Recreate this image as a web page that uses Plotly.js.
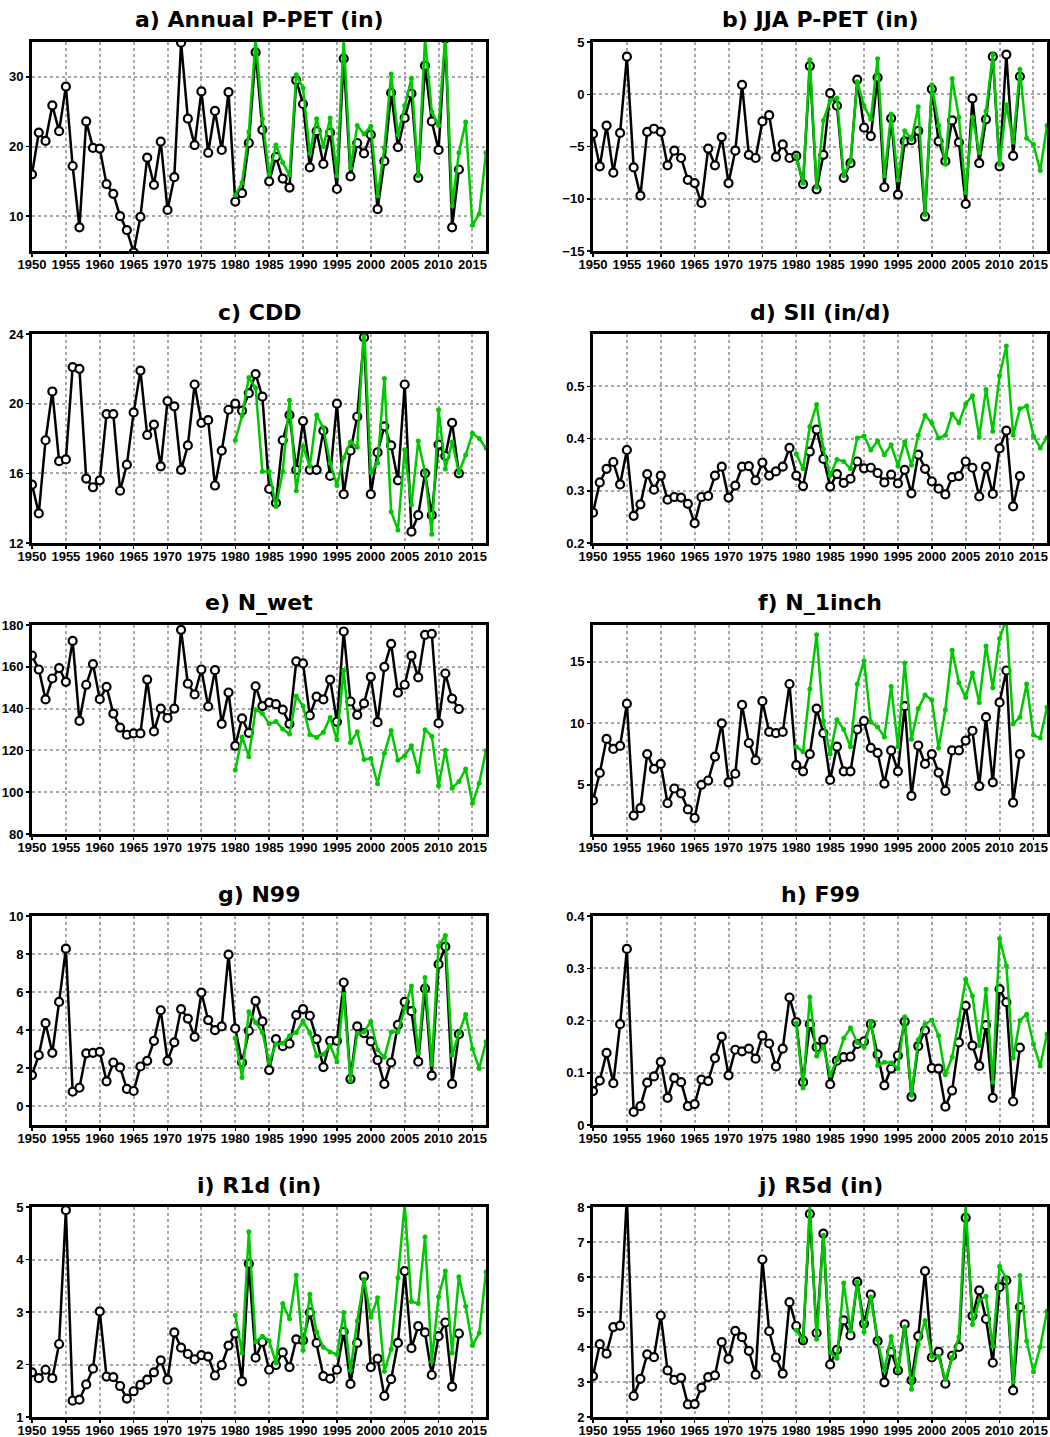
<!DOCTYPE html>
<html>
<head>
<meta charset="utf-8">
<script src="https://cdn.plot.ly/plotly-3.0.1.min.js"></script>
<style>html,body{margin:0;padding:0;background:#fff;}#chart{width:1050px;height:1437px;}</style>
</head>
<body>
<div id="chart"></div>
<script>
// ---------- categories ----------
const yearsObs = [1950,1951,1952,1953,1954,1955,1956,1957,1958,1959,
  1960,1961,1962,1963,1964,1965,1966,1967,1968,1969,
  1970,1971,1972,1973,1974,1975,1976,1977,1978,1979,
  1980,1981,1982,1983,1984,1985,1986,1987,1988,1989,
  1990,1991,1992,1993,1994,1995,1996,1997,1998,1999,
  2000,2001,2002,2003,2004,2005,2006,2007,2008,2009,
  2010,2011,2012,2013];
const yearsGreen = [1980,1981,1982,1983,1984,1985,1986,1987,1988,1989,
  1990,1991,1992,1993,1994,1995,1996,1997,1998,1999,
  2000,2001,2002,2003,2004,2005,2006,2007,2008,2009,
  2010,2011,2012,2013,2014,2015,2016,2017];
const xTickVals = [1950,1955,1960,1965,1970,1975,1980,1985,1990,1995,2000,2005,2010,2015];

// ---------- a) Annual P-PET (in) ----------
const aBlack = [16.0,22.0,20.8,25.9,22.2,28.6,17.2,8.4,23.6,19.8,
  19.7,14.6,13.2,10.0,8.0,4.8,9.9,18.4,14.5,20.7,
  10.9,15.6,34.9,24.0,20.2,27.9,19.1,25.1,19.5,27.8,
  12.1,13.3,20.5,33.5,22.4,15.0,18.5,15.4,14.1,29.5,
  26.1,17.0,22.2,17.5,22.0,13.9,32.6,15.7,20.5,19.0,
  21.7,11.0,17.9,27.7,19.9,24.1,27.6,15.5,31.6,23.6,
  19.5,35.5,8.4,16.7];
const aGreen = [13.0,14.8,22.1,35.5,24.0,16.0,20.2,17.7,15.9,30.3,
  28.4,19.0,24.0,20.0,24.1,15.8,35.5,16.9,23.0,21.8,
  22.9,12.9,19.8,30.4,21.7,25.9,29.8,15.8,35.5,25.0,
  23.0,36.0,11.5,19.1,23.5,8.7,10.3,19.1];

// ---------- b) JJA P-PET (in) ----------
const bBlack = [-3.8,-6.9,-3.0,-7.5,-3.7,3.6,-7.0,-9.7,-3.6,-3.3,
  -3.6,-6.8,-5.4,-6.1,-8.2,-8.5,-10.4,-5.2,-6.8,-4.1,
  -8.5,-5.4,0.9,-5.8,-6.1,-2.6,-2.0,-6.0,-4.8,-6.1,
  -5.9,-8.6,2.7,-9.1,-5.8,0.1,-1.1,-8.0,-6.6,1.4,
  -3.2,-4.0,1.6,-8.9,-2.3,-9.6,-4.5,-4.4,-3.5,-11.7,
  0.5,-4.5,-6.4,-2.5,-4.6,-10.5,-0.4,-6.6,-2.4,3.6,
  -6.9,3.8,-5.9,1.7];
const bGreen = [-5.9,-8.5,3.3,-8.9,-2.5,-0.6,-0.35,-7.8,-6.4,1.2,
  -1.1,-2.4,3.4,-7.8,-1.9,-8.2,-3.5,-4.3,-1.2,-11.5,
  0.9,-3.0,-6.7,1.5,-2.2,-9.4,-2.2,-5.6,-1.6,3.8,
  -6.7,-1.0,-4.6,2.4,-4.2,-4.8,-7.3,-3.0];

// ---------- c) CDD ----------
const cBlack = [15.35,13.7,17.9,20.7,16.7,16.8,22.1,22.0,15.7,15.2,
  15.6,19.4,19.4,15.0,16.5,19.5,21.9,18.2,18.8,16.4,
  20.15,19.85,16.2,17.6,21.1,18.9,19.05,15.3,17.3,19.65,
  20.0,19.6,20.6,21.7,20.4,15.1,14.3,17.9,19.35,16.2,
  19.0,16.2,16.2,18.45,15.85,20.0,14.8,17.3,19.25,23.8,
  14.8,17.2,18.7,17.6,15.6,21.1,12.65,13.6,16.0,13.6,
  17.65,17.0,18.9,16.0];
const cGreen = [17.9,19.3,21.5,20.9,16.1,16.1,14.1,16.1,20.2,15.0,
  17.55,16.4,19.35,18.6,16.6,15.3,16.9,17.8,17.5,24.5,
  16.05,16.6,21.45,13.8,12.75,17.35,14.2,17.85,16.05,12.5,
  19.65,16.25,17.8,16.05,17.05,18.3,18.0,17.45];

// ---------- d) SII (in/d) ----------
const dBlack = [0.258,0.316,0.342,0.355,0.312,0.378,0.252,0.274,0.332,0.302,
  0.329,0.283,0.288,0.287,0.275,0.238,0.288,0.290,0.329,0.346,
  0.287,0.310,0.346,0.347,0.320,0.354,0.329,0.337,0.346,0.382,
  0.329,0.309,0.375,0.417,0.361,0.308,0.332,0.315,0.323,0.356,
  0.343,0.344,0.334,0.316,0.331,0.314,0.340,0.295,0.369,0.342,
  0.318,0.304,0.293,0.326,0.328,0.356,0.344,0.289,0.346,0.294,
  0.381,0.415,0.270,0.328];
const dGreen = [0.371,0.342,0.423,0.465,0.380,0.329,0.360,0.356,0.342,0.401,
  0.405,0.378,0.395,0.369,0.388,0.348,0.394,0.349,0.406,0.444,
  0.430,0.401,0.406,0.447,0.430,0.466,0.482,0.403,0.494,0.414,
  0.520,0.577,0.406,0.457,0.462,0.405,0.382,0.402];

// ---------- e) N_wet ----------
const eBlack = [165.4,158.7,144.4,154.4,159.4,152.8,172.4,134.1,151.4,161.3,
  144.5,150.4,137.6,130.9,127.5,128.1,128.1,153.9,129.1,140.0,
  135.5,140.0,177.7,151.9,146.8,158.7,141.0,158.4,132.7,147.7,
  122.2,135.3,128.4,150.7,141.2,142.9,142.1,139.5,132.7,162.6,
  161.6,136.7,145.7,144.4,153.9,133.7,176.9,143.4,137.0,142.5,
  155.2,133.5,160.0,171.0,147.6,151.4,165.3,154.9,175.3,175.8,
  133.0,156.8,144.8,139.8];
const eGreen = [110.6,126.4,117.0,139.5,137.7,132.7,133.8,130.2,127.8,146.0,
  141.2,127.6,126.2,128.7,135.8,125.2,158.4,123.8,128.9,115.7,
  116.1,104.0,118.6,129.5,115.3,117.4,122.2,109.9,129.9,126.8,
  103.1,120.1,101.9,105.1,111.1,94.7,104.3,119.8];

// ---------- f) N_1inch ----------
const fBlack = [3.73,5.97,8.73,7.92,8.16,11.6,2.5,3.1,7.5,6.3,
  6.7,3.5,4.7,4.3,3.0,2.3,5.0,5.35,7.3,10.0,
  5.2,5.9,11.5,8.4,7.0,11.8,9.3,9.2,9.3,13.2,
  6.6,6.1,7.5,11.2,9.2,5.4,8.1,6.1,6.1,9.5,
  10.2,8.0,7.6,5.1,7.8,6.1,11.4,4.1,8.2,6.7,
  7.5,6.0,4.5,7.8,7.8,8.6,9.4,4.9,10.5,5.2,
  11.7,14.3,3.55,7.5];
const fGreen = [8.1,7.7,12.8,17.2,10.2,7.5,10.3,9.5,8.1,13.2,
  15.1,10.1,9.7,8.9,13.0,8.1,14.9,8.7,11.2,12.3,
  11.9,8.0,11.1,15.95,13.3,12.1,14.1,11.7,16.3,12.9,
  16.9,18.5,9.95,10.5,13.2,9.05,8.8,11.3];

// ---------- g) N99 ----------
const gBlack = [1.63,2.68,4.36,2.8,5.48,8.28,0.75,0.96,2.77,2.8,
  2.85,1.3,2.29,2.03,0.9,0.79,2.08,2.38,3.43,5.04,
  2.38,3.35,5.1,4.6,3.64,5.97,4.52,3.99,4.19,7.97,
  4.08,2.29,3.96,5.53,4.45,1.89,3.52,3.15,3.28,4.78,
  5.1,4.75,3.52,2.05,3.43,3.43,6.5,1.42,4.19,3.84,
  3.4,2.42,1.16,2.29,4.27,5.48,4.99,2.33,6.18,1.6,
  7.46,8.39,1.16,3.78];
const gGreen = [3.56,1.5,4.96,4.4,3.87,2.29,3.26,3.3,3.7,3.87,
  4.47,3.84,2.64,2.73,3.17,2.33,5.88,1.33,3.82,3.9,
  4.45,2.96,2.56,3.9,3.9,5.13,6.32,2.77,6.76,2.2,
  8.42,8.98,2.68,3.84,4.82,3.0,1.98,3.38];

// ---------- h) F99 ----------
const hBlack = [0.065,0.085,0.138,0.08,0.193,0.337,0.025,0.036,0.081,0.093,
  0.121,0.052,0.09,0.082,0.036,0.04,0.087,0.084,0.128,0.169,
  0.095,0.144,0.141,0.146,0.127,0.171,0.156,0.112,0.146,0.244,
  0.197,0.082,0.193,0.149,0.163,0.078,0.123,0.13,0.131,0.155,
  0.16,0.193,0.135,0.076,0.108,0.133,0.198,0.054,0.151,0.181,
  0.109,0.108,0.035,0.066,0.158,0.228,0.152,0.113,0.191,0.052,
  0.26,0.235,0.045,0.148];
const hGreen = [0.195,0.071,0.245,0.132,0.15,0.095,0.125,0.166,0.186,0.158,
  0.149,0.198,0.114,0.12,0.119,0.108,0.207,0.057,0.163,0.193,
  0.201,0.171,0.096,0.13,0.201,0.279,0.247,0.152,0.26,0.082,
  0.357,0.305,0.128,0.2,0.212,0.155,0.113,0.174];

// ---------- i) R1d (in) ----------
const iBlack = [1.85,1.74,1.9,1.74,2.39,4.94,1.31,1.33,1.62,1.92,
  3.01,1.77,1.76,1.59,1.35,1.49,1.61,1.71,1.85,2.08,
  1.71,2.61,2.32,2.2,2.1,2.18,2.15,1.79,1.99,2.36,
  2.59,1.68,3.92,2.13,2.43,1.9,1.99,2.23,1.95,2.48,
  2.46,2.99,2.41,1.78,1.73,1.9,2.62,1.63,2.41,3.68,
  1.95,2.11,1.4,1.72,2.41,3.78,2.31,2.73,2.61,1.8,
  2.54,2.8,1.58,2.59];
const iGreen = [2.94,2.22,4.53,2.43,2.54,2.45,2.03,3.16,2.87,3.7,
  2.27,3.34,2.62,2.33,2.24,2.19,2.99,1.89,2.83,3.62,
  2.9,3.27,1.87,2.29,3.65,5.05,3.2,3.16,4.43,2.06,
  3.29,3.78,2.22,3.67,3.11,2.36,2.6,3.76];

// ---------- j) R5d (in) ----------
const jBlack = [3.17,4.08,3.81,4.57,4.61,8.3,2.6,3.09,3.79,3.71,
  4.9,3.33,3.06,3.12,2.36,2.37,2.84,3.14,3.19,4.14,
  3.66,4.46,4.28,3.89,3.21,6.5,4.45,3.7,3.24,5.28,
  4.6,4.19,7.8,4.4,7.24,3.5,3.92,4.76,4.33,5.86,
  4.67,5.5,4.17,2.99,3.86,3.33,4.65,3.05,4.31,6.17,
  3.7,3.86,2.95,3.75,4.0,7.69,4.89,5.62,4.8,3.55,
  5.71,5.9,2.76,5.14];
const jGreen = [4.48,4.17,8.1,4.22,7.19,3.84,3.68,5.83,4.46,5.86,
  4.43,5.43,4.21,3.33,4.3,3.31,4.57,2.79,4.07,4.76,
  3.73,3.73,3.07,3.7,4.29,8.1,4.64,5.33,5.45,4.02,
  6.31,5.95,3.0,6.04,4.17,3.29,4.0,5.02];

// ---------- titles and axis settings ----------
const panelTitles = ['a) Annual P-PET (in)','b) JJA P-PET (in)','c) CDD','d) SII (in/d)',
  'e) N_wet','f) N_1inch','g) N99','h) F99','i) R1d (in)','j) R5d (in)'];
const blackSeries = [aBlack,bBlack,cBlack,dBlack,eBlack,fBlack,gBlack,hBlack,iBlack,jBlack];
const greenSeries = [aGreen,bGreen,cGreen,dGreen,eGreen,fGreen,gGreen,hGreen,iGreen,jGreen];
const yRanges = [[5,35],[-15,5],[12,24],[0.2,0.6],[80,180],[1,18],[-1,10],[0,0.4],[1,5],[2,8]];
const yTicks = [[10,20,30],[-15,-10,-5,0,5],[12,16,20,24],[0.2,0.3,0.4,0.5],[80,100,120,140,160,180],
  [5,10,15],[0,2,4,6,8,10],[0,0.1,0.2,0.3,0.4],[1,2,3,4,5],[2,3,4,5,6,7,8]];

// ---------- layout geometry (pixels) ----------
const W = 1050, H = 1437;
const colPx = [[32,486],[593,1047]];
const rowPx = [[42,251],[334,543],[625,834],[916,1125],[1207,1417]];
const GREEN = '#00c800';
const tickFont = {family:'"Liberation Sans",Arial,sans-serif', size:13, color:'#000', weight:'bold'};

const data = [];
const layout = {
  width: W, height: H,
  margin: {l:0, r:0, t:0, b:0},
  paper_bgcolor: '#fff', plot_bgcolor: '#fff',
  showlegend: false,
  annotations: []
};

for (let i = 0; i < 10; i++) {
  const row = Math.floor(i/2), col = i % 2;
  const n = i === 0 ? '' : String(i+1);
  const xd = [colPx[col][0]/W, colPx[col][1]/W];
  const yd = [1 - rowPx[row][1]/H, 1 - rowPx[row][0]/H];
  const axCommon = {
    showline: true, linecolor: '#000', linewidth: 3, mirror: true,
    showgrid: true, gridcolor: '#a8a8a8', griddash: 'dot', gridwidth: 2,
    zeroline: false, ticks: 'outside', ticklen: 3, tickwidth: 1.5, tickcolor: '#000',
    tickfont: tickFont, tickangle: 0, automargin: false, fixedrange: true
  };
  layout['xaxis'+n] = Object.assign({}, axCommon, {
    domain: xd, anchor: 'y'+n, range: [1950, 2017],
    tickmode: 'array', tickvals: xTickVals
  });
  layout['yaxis'+n] = Object.assign({}, axCommon, {
    domain: yd, anchor: 'x'+n, range: yRanges[i],
    tickmode: 'array', tickvals: yTicks[i]
  });
  data.push({
    x: yearsObs, y: blackSeries[i], xaxis: 'x'+n, yaxis: 'y'+n,
    type: 'scatter', mode: 'lines+markers',
    line: {color: '#000', width: 2.5},
    marker: {symbol: 'circle', size: 8, color: '#fff', line: {color: '#000', width: 2.2}},
    hoverinfo: 'skip'
  });
  data.push({
    x: yearsGreen, y: greenSeries[i], xaxis: 'x'+n, yaxis: 'y'+n,
    type: 'scatter', mode: 'lines+markers',
    line: {color: GREEN, width: 2.5},
    marker: {symbol: 'circle', size: 5, color: GREEN},
    hoverinfo: 'skip'
  });
  layout.annotations.push({
    text: panelTitles[i], xref: 'paper', yref: 'paper',
    x: (xd[0]+xd[1])/2, y: yd[1], xanchor: 'center', yanchor: 'middle', yshift: 22,
    showarrow: false,
    font: {family: '"DejaVu Sans",sans-serif', size: 22, color: '#000', weight: 'bold'}
  });
}

Plotly.newPlot('chart', data, layout, {staticPlot: true, displayModeBar: false}).then(function (gd) {
  // pull the x tick labels a little closer to the frame, as in the reference
  gd.querySelectorAll('g.xaxislayer-above > g').forEach(function (g) {
    g.setAttribute('transform', 'translate(0,-4)');
  });
});
</script>
</body>
</html>
